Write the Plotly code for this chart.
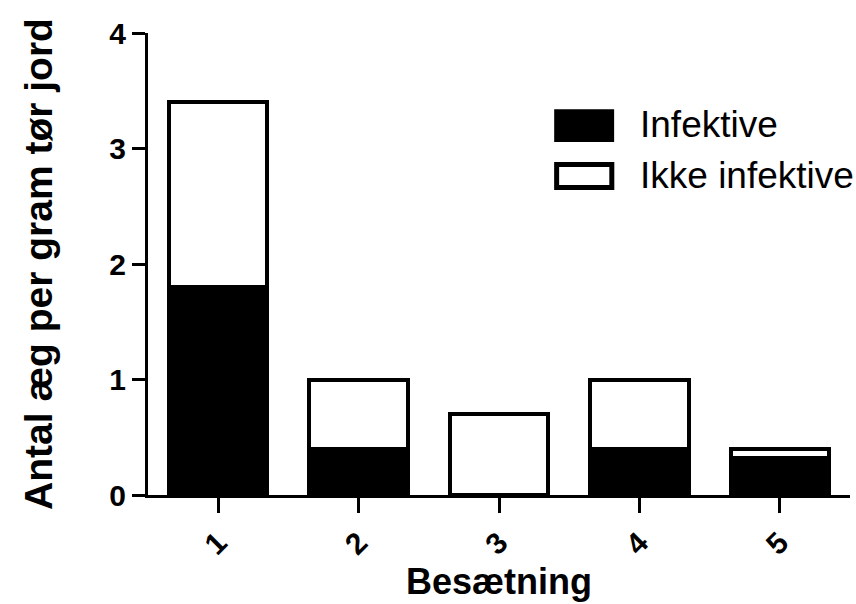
import plotly.graph_objects as go

categories = ["1", "2", "3", "4", "5"]
infektive = [1.8, 0.4, 0.0, 0.4, 0.32]
ikke_infektive = [1.6, 0.6, 0.7, 0.6, 0.08]
y_ticks = [0, 1, 2, 3, 4]
legend_labels = ["Infektive", "Ikke infektive"]

FONT = "Liberation Sans, Arial, sans-serif"

fig = go.Figure()
fig.add_trace(go.Bar(x=categories, y=infektive, name=legend_labels[0],
                     marker=dict(color="black", line=dict(color="black", width=4)),
                     width=0.7, showlegend=False))
fig.add_trace(go.Bar(x=categories, y=ikke_infektive, name=legend_labels[1],
                     marker=dict(color="white", line=dict(color="black", width=4)),
                     width=0.7, showlegend=False))

# manual legend (large swatches)
fig.add_shape(type="rect", xref="paper", yref="paper",
              x0=0.5786, x1=0.664, y0=0.764, y1=0.835,
              fillcolor="black", line=dict(width=0))
fig.add_shape(type="rect", xref="paper", yref="paper",
              x0=0.5821, x1=0.6607, y0=0.6656, y1=0.7154,
              fillcolor="white", line=dict(color="black", width=5))
fig.add_annotation(xref="paper", yref="paper", x=0.6986, y=0.803,
                   text=legend_labels[0], showarrow=False, xanchor="left", yanchor="middle",
                   font=dict(family=FONT, size=37, color="black"))
fig.add_annotation(xref="paper", yref="paper", x=0.6986, y=0.6905,
                   text=legend_labels[1], showarrow=False, xanchor="left", yanchor="middle",
                   font=dict(family=FONT, size=37, color="black"))

fig.update_layout(
    barmode="stack",
    width=856, height=604,
    margin=dict(l=148, r=6, t=33, b=109),
    plot_bgcolor="white", paper_bgcolor="white",
    font=dict(family=FONT, color="black"),
)
fig.update_xaxes(
    type="category", range=[-0.5, 4.5],
    showline=True, linecolor="black", linewidth=3,
    ticks="outside", ticklen=15, tickwidth=3, tickcolor="black",
    tickangle=-45,
    tickfont=dict(family=FONT, size=30, color="black", weight="bold"),
    title=dict(text="Besætning", font=dict(family=FONT, size=36, color="black", weight="bold"),
               standoff=8),
    showgrid=False, zeroline=False,
)
fig.update_yaxes(
    range=[0, 4], tickvals=y_ticks,
    showline=True, linecolor="black", linewidth=3,
    ticks="outside", ticklen=13, tickwidth=3, tickcolor="black",
    tickfont=dict(family=FONT, size=30, color="black", weight="bold"),
    title=dict(text="Antal æg per gram tør jord",
               font=dict(family=FONT, size=39, color="black", weight="bold"),
               standoff=45),
    showgrid=False, zeroline=False,
)

fig.write_html("out.html")
